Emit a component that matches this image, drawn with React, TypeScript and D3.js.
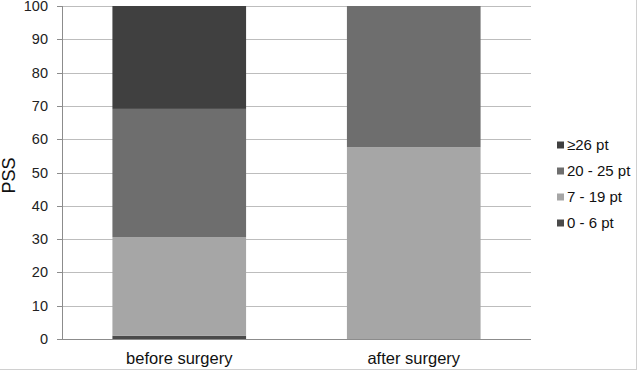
import React from "react";
import * as d3 from "d3";

const categories = ["before surgery", "after surgery"];
const seriesNames = ["0 - 6 pt", "7 - 19 pt", "20 - 25 pt", "≥26 pt"];
const seriesColors = ["#4a4a4a", "#a6a6a6", "#6e6e6e", "#404040"];
const val0to6 = [1, 0];
const val7to19 = [29.6, 57.6];
const val20to25 = [38.5, 42.4];
const val26plus = [30.9, 0];
const yTicks = [0, 10, 20, 30, 40, 50, 60, 70, 80, 90, 100];

const W = 640, H = 371;
const left = 62, right = 531, top = 6, bottom = 339;

export default function App() {
  const seriesVals = [val0to6, val7to19, val20to25, val26plus];
  const table = categories.map((c, i) => {
    const o: any = { cat: c };
    seriesNames.forEach((s, j) => (o[s] = seriesVals[j][i]));
    return o;
  });
  const stack = d3.stack<any>().keys(seriesNames)(table);
  const x = d3.scaleBand().domain(categories).range([left, right]).paddingInner(0.43).paddingOuter(0.215);
  const y = d3.scaleLinear().domain([0, 100]).range([bottom, top]);
  const font = "'Liberation Sans', Arial, sans-serif";
  const legendOrder = [3, 2, 1, 0];
  return (
    <svg width={W} height={H} style={{ position: "absolute", left: 0, top: 0, background: "#fff" }} fontFamily={font}>
      <rect x={0} y={0} width={W} height={H} fill="#fff" />
      <line x1={636.5} x2={636.5} y1={0} y2={369} stroke="#d0d0d0" />
      <line x1={0} x2={637} y1={369.5} y2={369.5} stroke="#d0d0d0" />
      {yTicks.map((t) => (
        <g key={t}>
          <line x1={left} x2={right} y1={Math.round(y(t)) + 0.5} y2={Math.round(y(t)) + 0.5} stroke="#bdbdbd" />
          <line x1={left - 5} x2={left} y1={Math.round(y(t)) + 0.5} y2={Math.round(y(t)) + 0.5} stroke="#8c8c8c" />
          <text x={48} y={y(t)} dy="0.35em" textAnchor="end" fontSize={14.5} fill="#222">{t}</text>
        </g>
      ))}
      {stack.map((s, j) => (
        <g key={s.key} fill={seriesColors[j]}>
          {s.map((d, i) => (
            <rect key={i} x={x(categories[i])!} width={x.bandwidth()} y={y(d[1])} height={Math.max(0, y(d[0]) - y(d[1]))} />
          ))}
        </g>
      ))}
      <line x1={left + 0.5} x2={left + 0.5} y1={top} y2={bottom} stroke="#8c8c8c" />
      <line x1={left - 5} x2={right} y1={bottom + 0.5} y2={bottom + 0.5} stroke="#8c8c8c" />
      {categories.map((c) => (
        <text key={c} x={x(c)! + x.bandwidth() / 2} y={358} dy="0.35em" textAnchor="middle" fontSize={16.5} fill="#111">{c}</text>
      ))}
      <text transform={`translate(9,${(top + bottom) / 2 + 3}) rotate(-90)`} textAnchor="middle" dy="0.35em" fontSize={18} fill="#111">PSS</text>
      {legendOrder.map((j, k) => (
        <g key={j} transform={`translate(557,${145 + k * 26})`}>
          <rect x={0} y={-3.5} width={7} height={7} fill={seriesColors[j]} />
          <text x={10} y={0} dy="0.35em" fontSize={15} fill="#111">{seriesNames[j]}</text>
        </g>
      ))}
    </svg>
  );
}
